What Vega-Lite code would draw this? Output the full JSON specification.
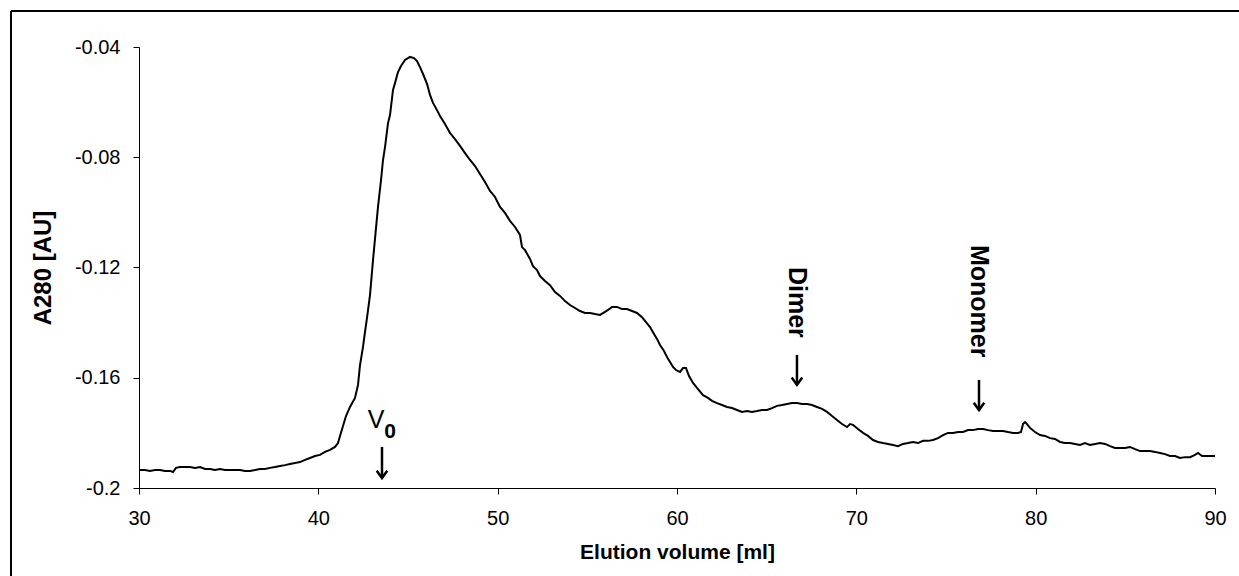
{
  "$schema": "https://vega.github.io/schema/vega-lite/v6.json",
  "width": 1228,
  "height": 565,
  "padding": {"left": 11, "top": 11, "right": 0, "bottom": 0},
  "autosize": {"type": "none"},
  "background": "white",
  "config": {
    "view": {"stroke": null},
    "font": "Liberation Sans"
  },
  "datasets": {
    "frame": [{"fx": 0, "fy": 0}],
    "curve": [
      {"v":30.000,"a":-0.1935},{"v":30.335,"a":-0.1935},{"v":30.613,"a":-0.1938},{"v":30.892,"a":-0.1935},{"v":31.171,"a":-0.1935},{"v":31.450,"a":-0.1938},{"v":31.729,"a":-0.1938},{"v":31.896,"a":-0.1942},{"v":32.063,"a":-0.1927},{"v":32.286,"a":-0.1924},{"v":32.565,"a":-0.1924},{"v":32.844,"a":-0.1924},{"v":33.123,"a":-0.1927},{"v":33.402,"a":-0.1924},{"v":33.680,"a":-0.1931},{"v":33.959,"a":-0.1931},{"v":34.238,"a":-0.1935},{"v":34.517,"a":-0.1931},{"v":34.796,"a":-0.1935},{"v":35.074,"a":-0.1935},{"v":35.353,"a":-0.1935},{"v":35.632,"a":-0.1935},{"v":35.911,"a":-0.1938},{"v":36.190,"a":-0.1938},{"v":36.469,"a":-0.1935},{"v":36.747,"a":-0.1931},{"v":37.026,"a":-0.1931},{"v":37.305,"a":-0.1927},{"v":37.584,"a":-0.1924},{"v":37.863,"a":-0.1920},{"v":38.141,"a":-0.1917},{"v":38.420,"a":-0.1913},{"v":38.699,"a":-0.1909},{"v":38.978,"a":-0.1906},{"v":39.257,"a":-0.1898},{"v":39.535,"a":-0.1891},{"v":39.814,"a":-0.1884},{"v":40.093,"a":-0.1880},{"v":40.372,"a":-0.1869},{"v":40.651,"a":-0.1862},{"v":40.930,"a":-0.1851},{"v":41.097,"a":-0.1837},{"v":41.208,"a":-0.1811},{"v":41.376,"a":-0.1775},{"v":41.543,"a":-0.1739},{"v":41.766,"a":-0.1706},{"v":42.045,"a":-0.1673},{"v":42.212,"a":-0.1626},{"v":42.324,"a":-0.1554},{"v":42.491,"a":-0.1488},{"v":42.602,"a":-0.1434},{"v":42.714,"a":-0.1383},{"v":42.881,"a":-0.1300},{"v":43.049,"a":-0.1173},{"v":43.216,"a":-0.1057},{"v":43.327,"a":-0.0980},{"v":43.495,"a":-0.0883},{"v":43.606,"a":-0.0810},{"v":43.718,"a":-0.0763},{"v":43.885,"a":-0.0676},{"v":43.997,"a":-0.0647},{"v":44.164,"a":-0.0556},{"v":44.275,"a":-0.0531},{"v":44.443,"a":-0.0491},{"v":44.610,"a":-0.0469},{"v":44.833,"a":-0.0447},{"v":45.112,"a":-0.0436},{"v":45.335,"a":-0.0440},{"v":45.502,"a":-0.0451},{"v":45.669,"a":-0.0473},{"v":45.837,"a":-0.0498},{"v":46.060,"a":-0.0534},{"v":46.227,"a":-0.0574},{"v":46.394,"a":-0.0603},{"v":46.617,"a":-0.0629},{"v":46.785,"a":-0.0650},{"v":47.063,"a":-0.0679},{"v":47.342,"a":-0.0712},{"v":47.621,"a":-0.0734},{"v":47.900,"a":-0.0759},{"v":48.179,"a":-0.0785},{"v":48.458,"a":-0.0810},{"v":48.736,"a":-0.0832},{"v":49.015,"a":-0.0861},{"v":49.294,"a":-0.0890},{"v":49.573,"a":-0.0922},{"v":49.852,"a":-0.0944},{"v":50.130,"a":-0.0980},{"v":50.409,"a":-0.1002},{"v":50.688,"a":-0.1031},{"v":50.967,"a":-0.1053},{"v":51.246,"a":-0.1082},{"v":51.357,"a":-0.1126},{"v":51.525,"a":-0.1137},{"v":51.803,"a":-0.1169},{"v":51.971,"a":-0.1195},{"v":52.194,"a":-0.1209},{"v":52.361,"a":-0.1231},{"v":52.640,"a":-0.1249},{"v":52.919,"a":-0.1264},{"v":53.197,"a":-0.1289},{"v":53.476,"a":-0.1303},{"v":53.755,"a":-0.1322},{"v":54.034,"a":-0.1336},{"v":54.313,"a":-0.1347},{"v":54.592,"a":-0.1358},{"v":54.870,"a":-0.1365},{"v":55.149,"a":-0.1365},{"v":55.428,"a":-0.1369},{"v":55.707,"a":-0.1372},{"v":55.986,"a":-0.1361},{"v":56.153,"a":-0.1354},{"v":56.376,"a":-0.1343},{"v":56.655,"a":-0.1343},{"v":56.934,"a":-0.1351},{"v":57.212,"a":-0.1351},{"v":57.491,"a":-0.1358},{"v":57.770,"a":-0.1365},{"v":58.049,"a":-0.1380},{"v":58.272,"a":-0.1398},{"v":58.495,"a":-0.1416},{"v":58.718,"a":-0.1441},{"v":58.885,"a":-0.1459},{"v":59.053,"a":-0.1481},{"v":59.276,"a":-0.1503},{"v":59.443,"a":-0.1525},{"v":59.610,"a":-0.1543},{"v":59.778,"a":-0.1561},{"v":59.945,"a":-0.1572},{"v":60.168,"a":-0.1579},{"v":60.335,"a":-0.1565},{"v":60.503,"a":-0.1565},{"v":60.670,"a":-0.1594},{"v":60.893,"a":-0.1619},{"v":61.172,"a":-0.1641},{"v":61.451,"a":-0.1663},{"v":61.730,"a":-0.1673},{"v":61.952,"a":-0.1684},{"v":62.231,"a":-0.1692},{"v":62.510,"a":-0.1699},{"v":62.789,"a":-0.1706},{"v":63.068,"a":-0.1710},{"v":63.346,"a":-0.1717},{"v":63.625,"a":-0.1724},{"v":63.904,"a":-0.1721},{"v":64.183,"a":-0.1724},{"v":64.462,"a":-0.1721},{"v":64.740,"a":-0.1717},{"v":65.019,"a":-0.1717},{"v":65.298,"a":-0.1710},{"v":65.577,"a":-0.1702},{"v":65.856,"a":-0.1699},{"v":66.135,"a":-0.1695},{"v":66.413,"a":-0.1692},{"v":66.692,"a":-0.1692},{"v":66.971,"a":-0.1695},{"v":67.250,"a":-0.1695},{"v":67.529,"a":-0.1699},{"v":67.807,"a":-0.1706},{"v":68.086,"a":-0.1713},{"v":68.365,"a":-0.1724},{"v":68.644,"a":-0.1739},{"v":68.923,"a":-0.1753},{"v":69.202,"a":-0.1768},{"v":69.480,"a":-0.1779},{"v":69.648,"a":-0.1768},{"v":69.815,"a":-0.1771},{"v":70.094,"a":-0.1786},{"v":70.372,"a":-0.1800},{"v":70.651,"a":-0.1811},{"v":70.930,"a":-0.1826},{"v":71.209,"a":-0.1833},{"v":71.488,"a":-0.1837},{"v":71.767,"a":-0.1840},{"v":72.045,"a":-0.1844},{"v":72.324,"a":-0.1848},{"v":72.603,"a":-0.1840},{"v":72.882,"a":-0.1837},{"v":73.161,"a":-0.1833},{"v":73.440,"a":-0.1837},{"v":73.718,"a":-0.1829},{"v":73.997,"a":-0.1829},{"v":74.276,"a":-0.1826},{"v":74.555,"a":-0.1819},{"v":74.834,"a":-0.1808},{"v":75.112,"a":-0.1800},{"v":75.391,"a":-0.1800},{"v":75.670,"a":-0.1797},{"v":75.949,"a":-0.1797},{"v":76.228,"a":-0.1790},{"v":76.507,"a":-0.1790},{"v":76.785,"a":-0.1786},{"v":77.064,"a":-0.1786},{"v":77.343,"a":-0.1790},{"v":77.622,"a":-0.1793},{"v":77.901,"a":-0.1793},{"v":78.179,"a":-0.1793},{"v":78.458,"a":-0.1797},{"v":78.737,"a":-0.1800},{"v":79.016,"a":-0.1800},{"v":79.183,"a":-0.1797},{"v":79.295,"a":-0.1768},{"v":79.406,"a":-0.1761},{"v":79.518,"a":-0.1768},{"v":79.685,"a":-0.1782},{"v":79.964,"a":-0.1797},{"v":80.243,"a":-0.1808},{"v":80.522,"a":-0.1811},{"v":80.801,"a":-0.1819},{"v":81.080,"a":-0.1822},{"v":81.358,"a":-0.1833},{"v":81.637,"a":-0.1837},{"v":81.916,"a":-0.1837},{"v":82.195,"a":-0.1840},{"v":82.474,"a":-0.1844},{"v":82.752,"a":-0.1837},{"v":83.031,"a":-0.1844},{"v":83.310,"a":-0.1840},{"v":83.589,"a":-0.1837},{"v":83.868,"a":-0.1840},{"v":84.147,"a":-0.1848},{"v":84.425,"a":-0.1855},{"v":84.704,"a":-0.1855},{"v":84.983,"a":-0.1855},{"v":85.262,"a":-0.1851},{"v":85.541,"a":-0.1859},{"v":85.819,"a":-0.1866},{"v":86.098,"a":-0.1866},{"v":86.377,"a":-0.1866},{"v":86.656,"a":-0.1869},{"v":86.935,"a":-0.1873},{"v":87.214,"a":-0.1877},{"v":87.492,"a":-0.1884},{"v":87.771,"a":-0.1884},{"v":88.050,"a":-0.1891},{"v":88.329,"a":-0.1888},{"v":88.608,"a":-0.1888},{"v":88.886,"a":-0.1880},{"v":89.054,"a":-0.1873},{"v":89.277,"a":-0.1884},{"v":89.556,"a":-0.1884},{"v":89.834,"a":-0.1884},{"v":90.000,"a":-0.1884}
    ],
    "arrows": [
      {"name":"V0","v":43.55,"a":-0.1851,"a2":-0.1964},
      {"name":"Dimer","v":66.69,"a":-0.1517,"a2":-0.1626},
      {"name":"Monomer","v":76.84,"a":-0.1608,"a2":-0.1717}
    ],
    "heads": [
      {"name":"V0","v":43.55,"a":-0.1964},
      {"name":"Dimer","v":66.69,"a":-0.1626},
      {"name":"Monomer","v":76.84,"a":-0.1717}
    ],
    "vlabels": [
      {"label":"Dimer","v":66.69,"a":-0.1198},
      {"label":"Monomer","v":76.84,"a":-0.1118}
    ],
    "vmain": [{"label":"V","v":43.22,"a":-0.1782}],
    "vsub": [{"label":"0","v":44.0,"a":-0.1819}]
  },
  "layer": [
    {
      "data": {"name": "frame"},
      "mark": {"type": "point", "opacity": 0},
      "encoding": {
        "x": {
          "field": "fx", "type": "quantitative",
          "scale": {"domain": [0, 1], "nice": false, "zero": false},
          "axis": {"orient": "top", "domainColor": "black", "domainWidth": 2, "ticks": false, "labels": false, "title": null, "grid": false, "translate": 0}
        },
        "y": {
          "field": "fy", "type": "quantitative",
          "scale": {"domain": [0, 1], "nice": false, "zero": false},
          "axis": {"orient": "left", "domainColor": "black", "domainWidth": 2, "ticks": false, "labels": false, "title": null, "grid": false, "translate": 0}
        }
      }
    },
    {
      "encoding": {
        "x": {
          "field": "v", "type": "quantitative",
          "scale": {"domain": [30, 90], "range": [128, 1204], "nice": false, "zero": false},
          "axis": {
            "orient": "bottom",
            "values": [30, 40, 50, 60, 70, 80, 90],
            "title": "Elution volume [ml]",
            "titleFont": "Liberation Sans", "titleFontSize": 21, "titleFontWeight": "bold", "titleColor": "black",
            "titlePadding": 13,
            "labelFont": "Liberation Sans", "labelFontSize": 20, "labelColor": "black",
            "labelPadding": 14, "labelFlush": false, "labelOverlap": false,
            "tickSize": 6, "tickColor": "black", "tickWidth": 1,
            "domainColor": "black", "domainWidth": 1,
            "grid": false, "offset": -88
          }
        },
        "y": {
          "field": "a", "type": "quantitative",
          "scale": {"domain": [-0.2, -0.04], "range": [477, 36], "nice": false, "zero": false},
          "axis": {
            "orient": "left",
            "values": [-0.2, -0.16, -0.12, -0.08, -0.04],
            "labelExpr": "toString(datum.value)",
            "title": "A280 [AU]",
            "titleFont": "Liberation Sans", "titleFontSize": 24, "titleFontWeight": "bold", "titleColor": "black",
            "titlePadding": 19,
            "labelFont": "Liberation Sans", "labelFontSize": 20, "labelColor": "black",
            "labelPadding": 13, "labelFlush": false, "labelOverlap": false,
            "tickSize": 6, "tickColor": "black", "tickWidth": 1,
            "domainColor": "black", "domainWidth": 1,
            "grid": false, "offset": -128
          }
        }
      },
      "layer": [
        {
          "data": {"name": "curve"},
          "mark": {"type": "line", "color": "black", "strokeWidth": 2, "strokeJoin": "miter"}
        },
        {
          "data": {"name": "arrows"},
          "mark": {"type": "rule", "color": "black", "strokeWidth": 2.5},
          "encoding": {"y2": {"field": "a2"}}
        },
        {
          "data": {"name": "heads"},
          "mark": {"type": "point", "shape": "M-1,-1.4L0,0L1,-1.4", "size": 110, "filled": false, "stroke": "black", "strokeWidth": 2.5, "opacity": 1}
        },
        {
          "data": {"name": "vlabels"},
          "mark": {"type": "text", "angle": 90, "align": "left", "baseline": "middle", "font": "Liberation Sans", "fontSize": 25, "fontWeight": "bold", "color": "black"},
          "encoding": {"text": {"field": "label"}}
        },
        {
          "data": {"name": "vmain"},
          "mark": {"type": "text", "align": "center", "baseline": "alphabetic", "font": "Liberation Sans", "fontSize": 25, "color": "black"},
          "encoding": {"text": {"field": "label"}}
        },
        {
          "data": {"name": "vsub"},
          "mark": {"type": "text", "align": "center", "baseline": "alphabetic", "font": "Liberation Sans", "fontSize": 21, "fontWeight": "bold", "color": "black"},
          "encoding": {"text": {"field": "label"}}
        }
      ]
    }
  ],
  "resolve": {
    "scale": {"x": "independent", "y": "independent"},
    "axis": {"x": "independent", "y": "independent"}
  }
}
